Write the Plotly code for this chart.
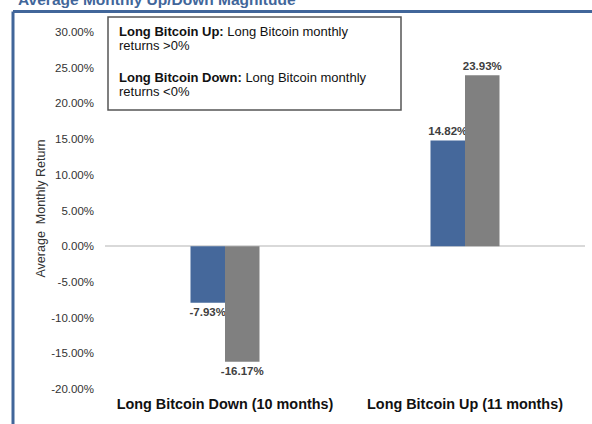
import plotly.graph_objects as go

categories = ["Long Bitcoin Down (10 months)", "Long Bitcoin Up (11 months)"]
series_a = [-7.93, 14.82]   # blue
series_b = [-16.17, 23.93]  # gray
series_names = ["Long Bitcoin", "Benchmark"]
y_ticks = [-20, -15, -10, -5, 0, 5, 10, 15, 20, 25, 30]
y_tick_labels = [f"{v:.2f}%" for v in y_ticks]
box_lines = [
    "<b>Long Bitcoin Up:</b> Long Bitcoin monthly",
    "returns >0%",
    "<b>Long Bitcoin Down:</b> Long Bitcoin monthly",
    "returns <0%",
]

W, H = 592, 424
L, R, T, B = 105, 7, 32, 35
pw, ph = W - L - R, H - T - B

def px_x(x):
    return (x - L) / pw

def px_y(y):
    return (H - B - y) / ph

FONT = "Liberation Sans, Arial, sans-serif"

fig = go.Figure()
for vals, name, col in [(series_a, series_names[0], "#45689B"), (series_b, series_names[1], "#808080")]:
    fig.add_trace(go.Bar(
        x=categories, y=vals, name=name,
        marker=dict(color=col, line=dict(width=0)),
        text=[f"{v:.2f}%" for v in vals],
        textposition="outside",
        textfont=dict(family=FONT, size=11.5, color="#404040", weight="bold"),
        cliponaxis=False,
        constraintext="none",
    ))

fig.update_layout(
    width=W, height=H,
    margin=dict(l=L, r=R, t=T, b=B),
    paper_bgcolor="white", plot_bgcolor="white",
    barmode="group", bargap=0.7125, bargroupgap=0,
    showlegend=False,
    font=dict(family=FONT, size=11, color="#333333"),
    xaxis=dict(
        showgrid=False, showline=False, zeroline=False, ticks="",
        tickfont=dict(family=FONT, size=14.4, color="#111111", weight="bold"),
        ticklabelstandoff=5,
    ),
    yaxis=dict(
        range=[-20, 30], tickvals=y_ticks, ticktext=y_tick_labels,
        showgrid=False, showline=False, ticks="",
        zeroline=True, zerolinecolor="#D9D9D9", zerolinewidth=1.5,
        tickfont=dict(family=FONT, size=11.5, color="#333333"),
        ticklabelstandoff=10,
    ),
)

# outer frame (blue)
frame_col = "#41669A"
fig.add_shape(type="line", xref="paper", yref="paper",
              x0=px_x(13), x1=px_x(600), y0=px_y(11.5), y1=px_y(11.5),
              line=dict(color=frame_col, width=3))
fig.add_shape(type="line", xref="paper", yref="paper",
              x0=px_x(13), x1=px_x(13), y0=px_y(11.5), y1=px_y(430),
              line=dict(color=frame_col, width=3))

# title (partially cut off at top)
fig.add_annotation(xref="paper", yref="paper", x=px_x(16), y=px_y(10.5),
                   xanchor="left", yanchor="bottom", showarrow=False,
                   text="<b>Average Monthly Up/Down Magnitude</b>",
                   font=dict(family=FONT, size=15.5, color="#41669A"))

# y-axis title
fig.add_annotation(xref="paper", yref="paper", x=px_x(40.5), y=px_y(209),
                   xanchor="center", yanchor="middle", showarrow=False,
                   textangle=-90, text="Average  Monthly Return",
                   font=dict(family=FONT, size=12.5, color="#333333"))

# definitions box
fig.add_shape(type="rect", xref="paper", yref="paper",
              x0=px_x(108), x1=px_x(401), y0=px_y(110), y1=px_y(17),
              line=dict(color="#555555", width=1.5), fillcolor="white")
for line_text, yc in zip(box_lines, [31, 46, 77, 92]):
    fig.add_annotation(xref="paper", yref="paper", x=px_x(117), y=px_y(yc),
                       xanchor="left", yanchor="middle", showarrow=False, align="left",
                       text=line_text,
                       font=dict(family=FONT, size=13, color="#111111"))

fig.write_html("out.html", config={"displayModeBar": False},
               post_script="document.body.style.margin='0';document.body.style.padding='0';")
